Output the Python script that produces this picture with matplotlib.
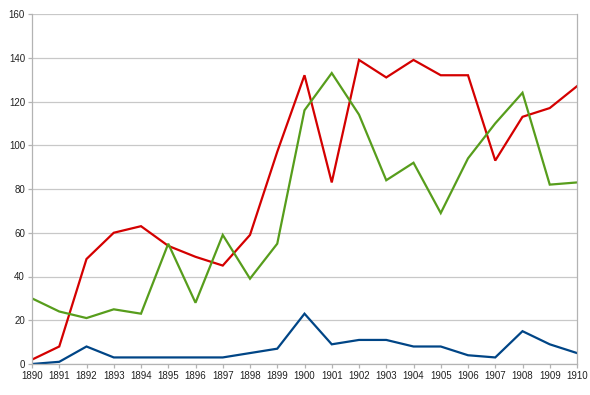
import matplotlib.pyplot as plt

years = list(range(1890, 1911))
blue = [0, 1, 8, 3, 3, 3, 3, 3, 5, 7, 23, 9, 11, 11, 8, 8, 4, 3, 15, 9, 5]
red = [2, 8, 48, 60, 63, 54, 49, 45, 59, 97, 132, 83, 139, 131, 139, 132, 132, 93, 113, 117, 127]
green = [30, 24, 21, 25, 23, 55, 28, 59, 39, 55, 116, 133, 114, 84, 92, 69, 94, 110, 124, 82, 83]

plt.rcParams['font.family'] = ['Liberation Sans', 'DejaVu Sans']

fig = plt.figure(figsize=(5.9, 3.95), dpi=100)
ax = fig.add_axes([32 / 590, 1 - 364 / 395, 545 / 590, 350 / 395])

ax.plot(years, blue, color='#004586', lw=1.6, solid_joinstyle='miter')
ax.plot(years, red, color='#d40000', lw=1.6, solid_joinstyle='miter')
ax.plot(years, green, color='#579d1c', lw=1.6, solid_joinstyle='miter')

ax.set_xlim(1890, 1910)
ax.set_ylim(0, 160)
ax.set_xticks(years)
ax.set_yticks(range(0, 161, 20))
ax.grid(axis='y', color='#c8c8c8', lw=0.9)
ax.set_axisbelow(True)
for side in ['left', 'right', 'bottom', 'top']:
    ax.spines[side].set_color('#b3b3b3')
    ax.spines[side].set_linewidth(0.9)
ax.spines['top'].set_visible(False)
ax.tick_params(axis='both', colors='#b3b3b3', length=3, width=0.9,
               labelsize=7, labelcolor='#222222', pad=2)

fig.savefig('out.png', dpi=100)
